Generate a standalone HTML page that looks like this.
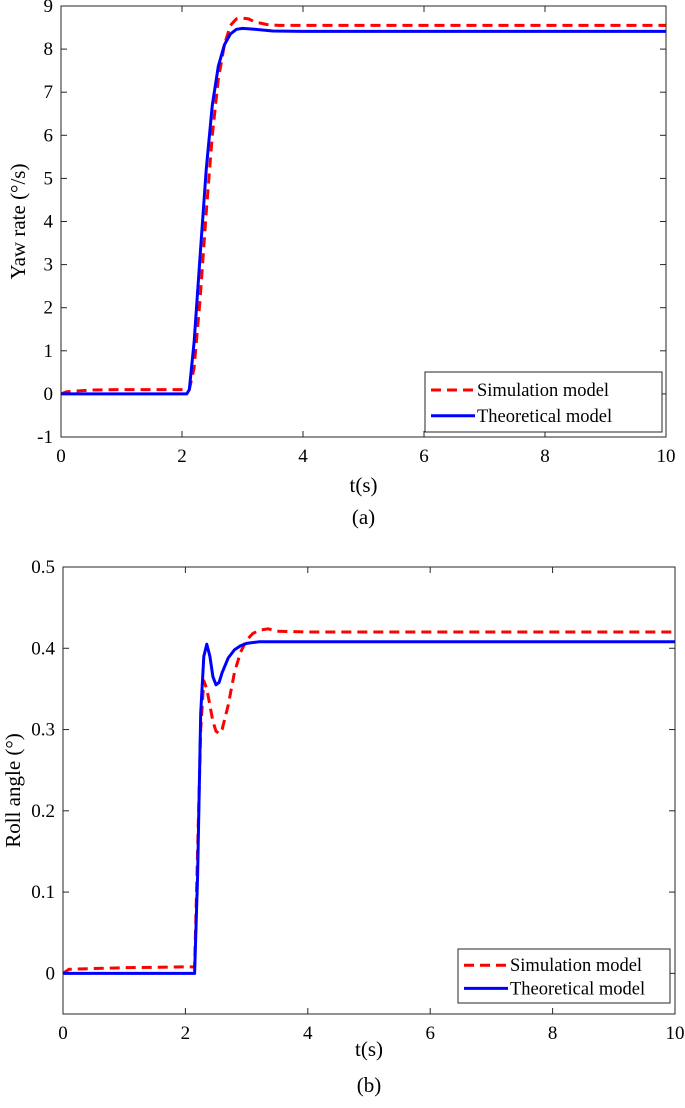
<!DOCTYPE html>
<html><head><meta charset="utf-8"><style>
body{margin:0;background:#fff;width:685px;height:1103px;overflow:hidden}
svg,text{font-family:"Liberation Serif","DejaVu Serif",serif;fill:#000}
</style></head><body>
<svg id="s" width="685" height="1103" font-family="Liberation Serif, DejaVu Serif, serif"></svg>
<script>
const xTicks=[0,2,4,6,8,10];
const yTicksA=[-1,0,1,2,3,4,5,6,7,8,9];
const yTicksB=[0,0.1,0.2,0.3,0.4,0.5];
const simAt=[0,0.1,0.5,1,1.5,2,2.12,2.2,2.3,2.4,2.5,2.6,2.7,2.8,2.9,3,3.1,3.2,3.4,3.6,4,5,10];
const simAv=[0,0.05,0.09,0.1,0.1,0.1,0.1,0.6,2.2,4.2,6.0,7.3,8.1,8.55,8.7,8.72,8.7,8.63,8.57,8.55,8.55,8.55,8.55];
const thAt=[0,1,2,2.08,2.12,2.2,2.3,2.4,2.5,2.6,2.7,2.8,2.9,3,3.2,3.5,4,5,10];
const thAv=[0,0,0,0,0.1,1.2,3.2,5.2,6.7,7.6,8.1,8.35,8.46,8.48,8.46,8.42,8.41,8.41,8.41];
const simBt=[0,0.1,0.5,1,2,2.15,2.2,2.25,2.3,2.35,2.4,2.45,2.5,2.55,2.6,2.7,2.8,2.9,3,3.1,3.2,3.35,3.5,4,10];
const simBv=[0,0.005,0.006,0.007,0.008,0.008,0.15,0.3,0.36,0.35,0.33,0.31,0.298,0.295,0.3,0.33,0.37,0.395,0.41,0.418,0.422,0.424,0.421,0.42,0.42];
const thBt=[0,1,2,2.1,2.15,2.2,2.25,2.3,2.35,2.4,2.45,2.5,2.55,2.6,2.7,2.8,2.9,3,3.2,3.5,4,10];
const thBv=[0,0,0,0,0,0.12,0.32,0.39,0.405,0.39,0.365,0.355,0.358,0.37,0.388,0.398,0.403,0.406,0.408,0.408,0.408,0.408];
const s=document.getElementById('s');const NS='http://www.w3.org/2000/svg';
function el(t,a,p){const e=document.createElementNS(NS,t);for(const k in a)e.setAttribute(k,a[k]);(p||s).appendChild(e);return e;}
function chart(o){
 const g=el('g',{});
 
 
 const X=v=>o.x0+(v-0)/10*(o.x1-o.x0);
 const Y=v=>o.y1-(v-o.ymin)/(o.ymax-o.ymin)*(o.y1-o.y0);
 xTicks.forEach(v=>{
  el('line',{x1:X(v),x2:X(v),y1:o.y1,y2:o.y1-6,stroke:'#262626'},g);
  el('line',{x1:X(v),x2:X(v),y1:o.y0,y2:o.y0+6,stroke:'#262626'},g);
  const t=el('text',{x:X(v),y:o.y1+25,'font-size':19,'text-anchor':'middle'},g);t.textContent=v;
  
  
 });
 o.yt.forEach(v=>{
  el('line',{x1:o.x0,x2:o.x0+6,y1:Y(v),y2:Y(v),stroke:'#262626'},g);
  el('line',{x1:o.x1,x2:o.x1-6,y1:Y(v),y2:Y(v),stroke:'#262626'},g);
  const t=el('text',{x:o.x0-8,y:Y(v)+6,'font-size':19,'text-anchor':'end'},g);t.textContent=v;
  
  
 });
 const line=(ts,vs,c,d,n)=>{const p=el('path',{d:ts.map((t,i)=>(i?'L':'M')+X(t).toFixed(1)+','+Y(vs[i]).toFixed(1)).join(''),fill:'none',stroke:c,'stroke-width':3,'stroke-dasharray':d,'stroke-linejoin':'round'},g);
  
  };
 line(o.st,o.sv,'#ff0000','10,6','simulation-line');
 line(o.tt,o.tv,'#0000ff','none','theoretical-line');
 el('rect',{x:o.x0,y:o.y0,width:o.x1-o.x0,height:o.y1-o.y0,fill:'none',stroke:'#262626'},g);
 const xl=el('text',{x:(o.x0+o.x1)/2,y:o.xly,'font-size':21,'text-anchor':'middle'},g);xl.textContent='t(s)';
 
 
 const yl=el('text',{x:0,y:0,'font-size':21,'text-anchor':'middle',transform:`translate(${o.ylx},${(o.y0+o.y1)/2}) rotate(-90)`},g);yl.textContent=o.ylab;
 
 
 const cap=el('text',{x:(o.x0+o.x1)/2,y:o.capy,'font-size':21,'text-anchor':'middle'},g);cap.textContent=o.cap;
 
 
 const L=o.leg;const lg=el('g',{},g);
 
 
 el('rect',{x:L[0],y:L[1],width:L[2],height:L[3],fill:'#fff',stroke:'#262626'},lg);
 el('line',{x1:L[0]+6,x2:L[0]+50,y1:L[1]+L[3]*0.3,y2:L[1]+L[3]*0.3,stroke:'#f00','stroke-width':3,'stroke-dasharray':'10,6'},lg);
 el('line',{x1:L[0]+6,x2:L[0]+50,y1:L[1]+L[3]*0.73,y2:L[1]+L[3]*0.73,stroke:'#00f','stroke-width':3},lg);
 let t=el('text',{x:L[0]+52,y:L[1]+L[3]*0.3+6,'font-size':18.5},lg);t.textContent='Simulation model';
 t=el('text',{x:L[0]+52,y:L[1]+L[3]*0.73+6,'font-size':18.5},lg);t.textContent='Theoretical model';
}
chart({name:'yaw-rate-chart',x0:61,x1:666,y0:6,y1:437,ymin:-1,ymax:9,yt:yTicksA,st:simAt,sv:simAv,tt:thAt,tv:thAv,ylab:'Yaw rate (°/s)',ylx:25,xly:492,cap:'(a)',capy:524,leg:[425,372,237,60]});
chart({name:'roll-angle-chart',x0:63,x1:675,y0:567,y1:1014,ymin:-0.05,ymax:0.5,yt:yTicksB,st:simBt,sv:simBv,tt:thBt,tv:thBv,ylab:'Roll angle (°)',ylx:20,xly:1056,cap:'(b)',capy:1092,leg:[458,949,212,54]});
</script></body></html>
